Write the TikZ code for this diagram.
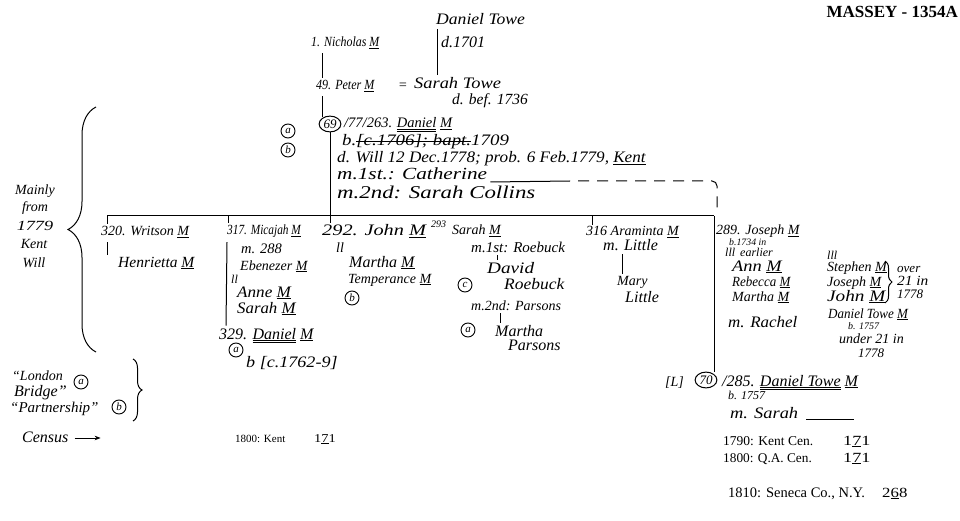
\documentclass[tikz,border=0pt]{standalone}
\usepackage{fontspec}
\usepackage{graphicx}
\setmainfont{Liberation Serif}
\usetikzlibrary{shapes.geometric,decorations.pathreplacing,arrows.meta}
\newcommand\fz[1]{\fontsize{#1}{#1}\selectfont}
\newcommand\hs[2]{\scalebox{#1}[1]{#2}}
\newcommand\Mu{\underline{M}}
\newcommand\dul[1]{$\underline{\underline{\hbox{#1}}}$}
\newcommand\strk[1]{\setbox0\hbox{#1}\rlap{\raisebox{0.28em}{\rule{\wd0}{0.7pt}}}\box0}
\begin{document}
\begin{tikzpicture}[x=1pt,y=-1pt,
  hw/.style={anchor=base west, inner sep=0pt, font=\fz{#1}\itshape},
  hw/.default=14,
  up/.style={anchor=base west, inner sep=0pt, font=\fz{#1}},
  up/.default=11,
  tag/.style={draw, circle, inner sep=0pt, minimum size=14pt, font=\fz{11}\itshape, line width=0.9pt},
  oval/.style={draw, ellipse, inner sep=1.2pt, font=\fz{13}\itshape, line width=1pt},
  ln/.style={line width=1pt},
  brc/.style={line width=1pt, decorate, decoration={brace, amplitude=#1}}]
\useasboundingbox[fill=white] (0,0) rectangle (960,521);

% title
\node[anchor=base east, inner sep=0pt, font=\fz{17}\bfseries] (title) at (958,18) {MASSEY - 1354A};

% ancestors
\node[hw] (nich) at (311,47) {\hs{0.85}{1. Nicholas \Mu}};
\node[hw=16] (dtowe) at (436,25) {\hs{1.1}{Daniel Towe}};
\node[hw=16] (dtd) at (441,48) {d.1701};
\node[hw] (peter) at (316,90) {\hs{0.86}{49. Peter \Mu}};
\node[hw] (eq) at (398,90) {=};
\node[hw=16] (sarahT) at (414,89) {\hs{1.15}{Sarah Towe}};
\node[hw=15.5] (sarahTd) at (452,105) {d. bef. 1736};
\draw[ln] ([xshift=11pt,yshift=-4pt]nich.south west) -- ([xshift=6pt,yshift=3pt]peter.north west);
\draw[ln] ([xshift=1pt,yshift=-4pt]dtowe.south west) -- ([xshift=23pt,yshift=3pt]sarahT.north west);

% Daniel 69
\node[oval] (c69) at (330,124) {69};
\node[hw=14.5] (dan) at (344,128) {/77/263. \dul{Daniel} \Mu};
\node[tag] (ta1) at (288,131) {a};
\node[tag] (tb1) at (288,150) {b};
\draw[ln] ([xshift=6pt,yshift=-4pt]peter.south west) -- ([xshift=6pt,yshift=-1pt]peter.south west |- c69.north);
\node[hw=16] (danb) at (342,146) {\hs{1.18}{b.\strk{[c.1706]; bapt.} 1709}};
\node[hw=16] (dand) at (337,163) {\hs{1.07}{d. Will 12 Dec.1778; prob. 6 Feb.1779, \underline{Kent}}};
\node[hw=17] (danm1) at (337,180) {\hs{1.25}{m.1st.: Catherine}};
\node[hw=18] (danm2) at (337,199) {\hs{1.27}{m.2nd: Sarah Collins}};
\coordinate (cathE) at (570,181);
\coordinate (dashC) at (717,181);
\draw[ln] ([xshift=3pt,yshift=-2pt]danm1.base east) -- (cathE);
\draw[ln, dash pattern=on 11pt off 8pt, rounded corners=5pt] ([xshift=8pt]cathE) -- (dashC) -- (717,212);

% bus
\coordinate (busL) at (107,216);
\coordinate (busR) at (714,216);
\draw[ln] (busL) -- (busR);
\draw[ln] (c69.south) -- (c69.south |- busL);

% 320 Writson
\node[hw] (writ) at (101,236) {320. Writson \Mu};
\node[hw=15.5] (henr) at (118,267) {Henrietta \Mu};
\draw[ln] (busL) -- ([xshift=6pt,yshift=2pt]writ.north west);
\draw[ln] ([xshift=6pt,yshift=-4pt]writ.south west) -- ([xshift=-11pt,yshift=2pt]henr.north west);

% 317 Micajah
\node[hw] (mica) at (227,235) {\hs{0.81}{317. Micajah \Mu}};
\node[hw=14.5] (mica288) at (241,254) {m. 288};
\node[hw] (eben) at (240,270) {Ebenezer \Mu};
\node[hw=12] (mica2) at (231,283) {ll};
\node[hw=16] (anne) at (237,297) {\hs{1.07}{Anne \Mu}};
\node[hw=16] (sarahM1) at (237,313) {\hs{1.05}{Sarah \Mu}};
\node[hw=16] (d329) at (219,339) {329. \dul{Daniel} \Mu};
\node[tag] (ta2) at (236,350) {a};
\node[hw=16] (d329b) at (246,367) {\hs{1.13}{b [c.1762-9]}};
\draw[ln] ([xshift=1pt]mica.west |- busL) -- ([xshift=1pt,yshift=2pt]mica.north west);
\draw[ln] ([xshift=0pt,yshift=-4pt]mica.south west) -- ([xshift=7pt,yshift=2pt]d329.north west);
\node[up] (c1800a) at (235,442) {1800: Kent};
\node[up=12] (c1800an) at (314,442) {\hs{1.2}{1\underline{7}1}};

% 292 John
\node[hw=16] (john) at (322,236) {\hs{1.27}{292. John \Mu}};
\node[hw=10] (n293) at (431,228) {293};
\node[hw] (john2) at (336,252) {ll};
\node[hw=16] (marthaJ) at (349,267) {Martha \Mu};
\node[hw] (temp) at (348,283) {Temperance \Mu};
\node[tag] (tb2) at (352,298) {b};
\draw[ln] (c69.south |- busL) -- ([xshift=8pt,yshift=2pt]john.north west);

% 293 Sarah
\node[hw] (sarahM2) at (452,235) {Sarah \Mu};
\node[hw=15] (roeb) at (471,252) {m.1st: Roebuck};
\node[hw=16] (david) at (487,273) {\hs{1.2}{David}};
\node[hw=16] (davidR) at (504,289) {\hs{1.09}{Roebuck}};
\node[tag] (tc) at (465,285) {c};
\node[hw] (pars) at (471,310) {m.2nd: Parsons};
\node[tag] (ta3) at (468,330) {a};
\node[hw=16] (marthaP) at (495,336) {Martha};
\node[hw=16] (marthaP2) at (508,350) {Parsons};
\draw[ln] ([xshift=26pt,yshift=-3pt]roeb.south west) -- ([xshift=10pt,yshift=2pt]david.north west);
\draw[ln] ([xshift=29pt,yshift=-3pt]pars.south west) -- ([xshift=5pt,yshift=2pt]marthaP.north west);

% 316 Araminta
\node[hw] (aram) at (586,236) {316 Araminta \Mu};
\node[hw=16] (aramm) at (603,251) {m. Little};
\node[hw] (mary) at (617,285) {Mary};
\node[hw=16] (maryL) at (625,302) {Little};
\draw[ln] ([xshift=6pt]aram.west |- busL) -- ([xshift=6pt,yshift=2pt]aram.north west);
\draw[ln] ([xshift=19pt,yshift=-3pt]aramm.south west) -- ([xshift=5pt,yshift=2pt]mary.north west);

% 289 Joseph
\node[hw] (jos) at (716,235) {289. Joseph \Mu};
\node[hw=9.8] (jos1) at (729,245) {b.1734 in};
\node[hw=12] (jos2) at (725,256) {lll\, earlier};
\node[hw=16] (annJ) at (732,271) {\hs{1.15}{Ann \Mu}};
\node[hw] (rebJ) at (732,286) {\hs{0.93}{Rebecca \Mu}};
\node[hw] (marJ) at (732,301) {Martha \Mu};
\node[hw=16] (rach) at (728,327) {\hs{1.06}{m. Rachel}};
\node[hw=12] (sons) at (827,259) {lll};
\node[hw] (steph) at (827,271) {Stephen \Mu};
\node[hw] (josJ) at (827,286) {Joseph \Mu};
\node[hw=16] (johnJ) at (827,301) {\hs{1.2}{John \Mu}};
\draw[brc=7pt] (885,261) -- (885,303);
\node[hw=13] (ov1) at (897,272) {over};
\node[hw=14] (ov2) at (897,285) {\hs{1.1}{21 in}};
\node[hw=13] (ov3) at (897,298) {1778};
\node[hw] (dtm) at (828,318) {\hs{0.93}{Daniel Towe \Mu}};
\node[hw=10] (dtm1) at (848,329) {b. 1757};
\node[hw=14] (dtm2) at (839,343) {under 21 in};
\node[hw=13] (dtm3) at (858,357) {1778};

% Daniel Towe 70
\node[hw] (lb) at (665,386) {[L]};
\node[oval] (c70) at (706,380) {70};
\node[hw=16] (dt70) at (722,386) {/285. \dul{Daniel Towe} \Mu};
\node[hw=12] (dt70b) at (728,399) {b. 1757};
\node[hw=16] (dt70m) at (730,418) {\hs{1.15}{m. Sarah}};
\draw[ln] ([xshift=8pt,yshift=-1pt]dt70m.base east) -- ++(48pt,0);
\draw[ln] (busR) -- (busR |- c70.north);
\node[up=13.5] (c1790) at (723,445) {1790: Kent Cen.};
\node[up=14] (c1790n) at (843,445) {\hs{1.3}{1\underline{7}1}};
\node[up=13.3] (c1800) at (723,462) {1800: Q.A. Cen.};
\node[up=14] (c1800n) at (843,462) {\hs{1.3}{1\underline{7}1}};
\node[up=14.5] (c1810) at (728,497) {1810: Seneca Co., N.Y.};
\node[up=14] (c1810n) at (882,497) {\hs{1.2}{2\underline{6}8}};

% left notes
\draw[brc=28pt] (96,352) -- (96,107);
\node[hw, anchor=base] (lm1) at (35,195) {Mainly};
\node[hw, anchor=base] (lm2) at (35,212) {from};
\node[hw, anchor=base] (lm3) at (35,231) {\hs{1.3}{1779}};
\node[hw, anchor=base] (lm4) at (34,248) {Kent};
\node[hw, anchor=base] (lm5) at (34,267) {Will};
\node[hw] (lb1) at (12,380) {``London};
\node[hw=16] (lb2) at (14,396) {Bridge''};
\node[tag] (ta4) at (81,382) {a};
\node[hw=15] (pt) at (10,412) {``Partnership''};
\node[tag] (tb4) at (119,407) {b};
\draw[brc=9pt] (133,359) -- (133,421);
\node[hw=16] (cens) at (22,442) {Census};
\draw[ln, -{Stealth[length=6pt]}] ([xshift=6pt,yshift=4pt]cens.base east) -- ++(26pt,0);
\end{tikzpicture}
\end{document}
